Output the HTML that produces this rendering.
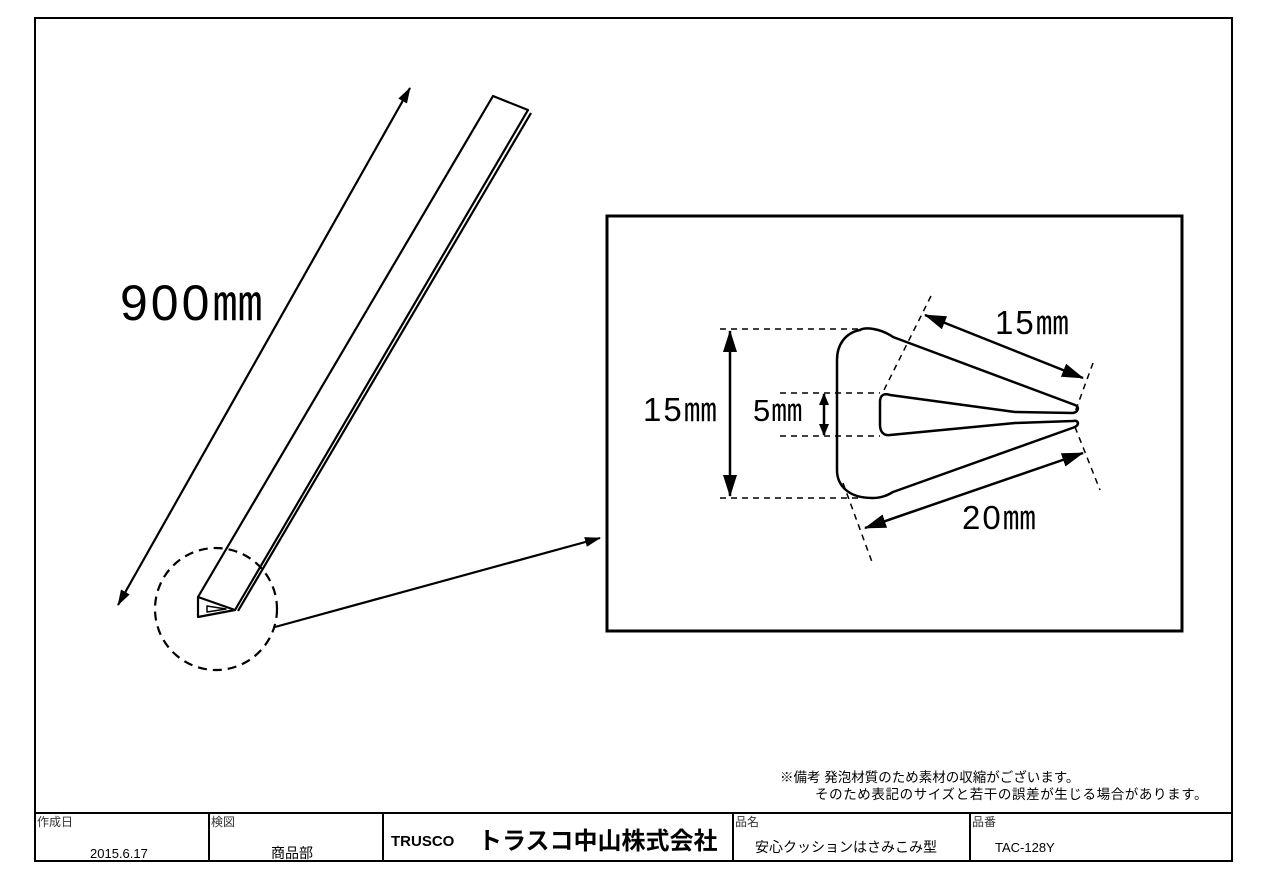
<!DOCTYPE html>
<html><head><meta charset="utf-8"><style>
body{margin:0;background:#fff;}
svg text{font-family:"Liberation Sans","Noto Sans CJK JP",sans-serif;}
</style></head><body>
<svg width="1262" height="891" viewBox="0 0 1262 891" xmlns="http://www.w3.org/2000/svg">
<defs>
<marker id="a" markerWidth="16" markerHeight="10" refX="15" refY="5" orient="auto-start-reverse" markerUnits="userSpaceOnUse"><path d="M0,0 L16,5 L0,10 Z" fill="#000"/></marker>
<marker id="c" markerWidth="12" markerHeight="10" refX="11" refY="5" orient="auto-start-reverse" markerUnits="userSpaceOnUse"><path d="M0,0 L12,5 L0,10 Z" fill="#000"/></marker>
<marker id="b" markerWidth="22" markerHeight="14" refX="21" refY="7" orient="auto-start-reverse" markerUnits="userSpaceOnUse"><path d="M0,0 L22,7 L0,14 Z" fill="#000"/></marker>
</defs>
<rect x="35" y="18" width="1197" height="843" fill="none" stroke="#000" stroke-width="2"/>
<g fill="none" stroke="#000" stroke-width="2.2" stroke-linejoin="round">
<line x1="118" y1="605" x2="410" y2="88" marker-start="url(#a)" marker-end="url(#a)"/>
<path d="M198,597 L493,96 L528,110 L235,610"/>
<line x1="531" y1="113" x2="238" y2="611"/>
<path d="M198,597 L198,617 L235,610 Z"/>
<path d="M207,606 L207,612 L226,609 Z" stroke-width="1.5"/>
<circle cx="216" cy="609" r="61" stroke-dasharray="9,6"/>
<line x1="275" y1="627" x2="600" y2="538" marker-end="url(#a)"/>
</g>
<text x="120" y="320" font-size="50" letter-spacing="3">900㎜</text>
<rect x="607" y="216" width="575" height="415" fill="none" stroke="#000" stroke-width="3"/>
<g fill="none" stroke="#000" stroke-width="2.5" stroke-linejoin="round">
<path d="M893,337 C880,328 865,327 860,330 C845,333 837,345 837,360 L837,470 C837,485 848,498 872,498 C882,498 888,495 893,492 L1075,427 C1080,424 1078,420 1073,421 L1015,423 L890,435 C884,436 880,432 880,425 L880,402 C880,395 884,393 890,395 L1015,412 L1073,413 C1078,412 1080,407 1075,405 Z"/>
</g>
<g fill="none" stroke="#000" stroke-width="1.5" stroke-dasharray="6,5">
<line x1="720" y1="329" x2="862" y2="329"/>
<line x1="720" y1="498" x2="862" y2="498"/>
<line x1="780" y1="393" x2="880" y2="393"/>
<line x1="780" y1="436" x2="880" y2="436"/>
<line x1="931" y1="296" x2="883" y2="392"/>
<line x1="1093" y1="363" x2="1075" y2="412"/>
<line x1="1075" y1="427" x2="1100" y2="490"/>
<line x1="843" y1="483" x2="872" y2="562"/>
</g>
<g stroke="#000" stroke-width="2.5">
<line x1="730" y1="331" x2="730" y2="496" marker-start="url(#b)" marker-end="url(#b)"/>
<line x1="824" y1="394" x2="824" y2="435" marker-start="url(#c)" marker-end="url(#c)"/>
<line x1="925" y1="315" x2="1083" y2="378" marker-start="url(#b)" marker-end="url(#b)"/>
<line x1="865" y1="528" x2="1083" y2="453" marker-start="url(#b)" marker-end="url(#b)"/>
</g>
<text x="995" y="334" font-size="33" letter-spacing="2">15㎜</text>
<text x="643" y="421" font-size="33" letter-spacing="2">15㎜</text>
<text x="753" y="421" font-size="31" letter-spacing="1">5㎜</text>
<text x="962" y="529" font-size="33" letter-spacing="2">20㎜</text>
<text x="780" y="782" font-size="13.5">※備考  発泡材質のため素材の収縮がございます。</text>
<text x="815" y="799" font-size="13.5" letter-spacing="0.6">そのため表記のサイズと若干の誤差が生じる場合があります。</text>
<g stroke="#000" stroke-width="2">
<line x1="35" y1="813" x2="1232" y2="813"/>
<line x1="209" y1="813" x2="209" y2="861"/>
<line x1="383" y1="813" x2="383" y2="861"/>
<line x1="733" y1="813" x2="733" y2="861"/>
<line x1="970" y1="813" x2="970" y2="861"/>
</g>
<g font-size="12" fill="#333">
<text x="37" y="826">作成日</text>
<text x="211" y="826">検図</text>
<text x="735" y="826">品名</text>
<text x="972" y="826">品番</text>
</g>
<text x="90" y="858" font-size="13">2015.6.17</text>
<text x="271" y="858" font-size="14">商品部</text>
<text x="391" y="846" font-size="15" font-weight="bold">TRUSCO</text>
<text x="478" y="849" font-size="24" font-weight="bold">トラスコ中山株式会社</text>
<text x="755" y="852" font-size="14">安心クッションはさみこみ型</text>
<text x="995" y="852" font-size="13">TAC-128Y</text>
</svg>
</body></html>
